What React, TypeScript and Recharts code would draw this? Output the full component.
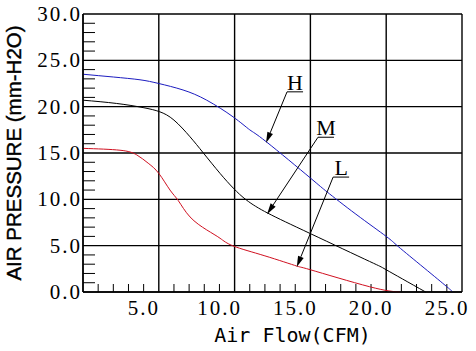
import React from 'react'
import { LineChart, Line, XAxis, YAxis, CartesianGrid, ReferenceLine, Label } from 'recharts'

// fan curves
const flowH = [0, 2, 3.76, 5, 6.6, 8.16, 9.9, 11, 12.1, 15, 16.1, 18, 20, 20.8, 22.5, 24, 24.4]
const presH = [23.5, 23.2, 22.9, 22.5, 21.8, 20.7, 18.9, 17.5, 16.2, 12.3, 10.8, 8.4, 6.0, 4.9, 2.6, 0.57, 0]

const flowM = [0, 2.2, 3.96, 5.06, 6, 7.06, 7.94, 9.04, 9.92, 10.8, 12.2, 15, 18.9, 20, 22.6]
const presM = [20.7, 20.35, 19.9, 19.45, 18.55, 16.75, 15.0, 12.8, 11.2, 9.9, 8.5, 6.3, 3.3, 2.4, 0]

const flowL = [0, 2.44, 3.54, 4.3, 5, 5.74, 6.29, 7.06, 8.16, 9.04, 9.92, 12, 14.1, 15, 18.9, 20.9]
const presL = [15.5, 15.3, 14.8, 13.9, 12.8, 11.0, 9.85, 8.1, 6.7, 5.8, 4.96, 3.9, 2.8, 2.4, 0.57, 0]

const xTicks = [0, 5, 10, 15, 20, 25]
const yTicks = [0, 5, 10, 15, 20, 25, 30]
const xMinor = [1, 2, 3, 4, 6, 7, 8, 9, 11, 12, 13, 14, 16, 17, 18, 19, 21, 22, 23, 24]
const yMinor = [1, 2, 3, 4, 6, 7, 8, 9, 11, 12, 13, 14, 16, 17, 18, 19, 21, 22, 23, 24, 26, 27, 28, 29]

// curve labels: underline start and arrow tip
const notes = [
  { name: 'H', x: 13.46, y: 21.6, tipX: 12.07, tipY: 16.07 },
  { name: 'M', x: 15.5, y: 16.7, tipX: 12.14, tipY: 8.4 },
  { name: 'L', x: 16.5, y: 12.4, tipX: 14.1, tipY: 2.7 },
]

const toPts = (xs: number[], ys: number[]) => xs.map((x, i) => ({ x, y: ys[i] }))
const dataH = toPts(flowH, presH)
const dataM = toPts(flowM, presM)
const dataL = toPts(flowL, presL)

const serif = "'Liberation Serif', 'DejaVu Serif', serif"

function XTick(props: any) {
  const { x, y, payload } = props
  if (payload.value === 0) return null
  return (
    <text x={x - 15} y={y + 23} textAnchor="middle" fontFamily={serif} fontSize={21} letterSpacing={2} fill="#000">
      {payload.value.toFixed(1)}
    </text>
  )
}

function YTick(props: any) {
  const { x, y, payload } = props
  return (
    <text x={x} y={y + 7} textAnchor="end" fontFamily={serif} fontSize={21} letterSpacing={2} fill="#000">
      {payload.value.toFixed(1)}
    </text>
  )
}

function Note(name: string) {
  return (props: any) => {
    const { x1, y1, x2, y2 } = props
    const ang = Math.atan2(y2 - y1, x2 - x1)
    const len = 11
    const w = 3
    const bx = x2 - len * Math.cos(ang)
    const by = y2 - len * Math.sin(ang)
    const px = -Math.sin(ang) * w
    const py = Math.cos(ang) * w
    return (
      <g>
        <line x1={x1} y1={y1} x2={x1 + 16} y2={y1} stroke="#000" strokeWidth={1} />
        <line x1={x1} y1={y1} x2={bx} y2={by} stroke="#000" strokeWidth={1} />
        <polygon points={`${x2},${y2} ${bx + px},${by + py} ${bx - px},${by - py}`} fill="#000" />
        <text x={x1 + 8} y={y1 - 2} textAnchor="middle" fontFamily={serif} fontSize={22} fill="#000">
          {name}
        </text>
      </g>
    )
  }
}

const xMinorShape = (props: any) => {
  const { x1, y1, y2 } = props
  const b = Math.max(y1, y2)
  return <line x1={x1} x2={x1} y1={b} y2={b - 8} stroke="#000" strokeWidth={1} />
}

const yMinorShape = (props: any) => {
  const { x1, x2, y1 } = props
  const l = Math.min(x1, x2)
  return <line x1={l} x2={l + 12} y1={y1} y2={y1} stroke="#000" strokeWidth={1} />
}

export default function App() {
  return (
    <div style={{ position: 'absolute', left: 0, top: 0, background: '#fff' }}>
      <LineChart width={476} height={351} margin={{ top: 14, right: 14, bottom: 0, left: 0 }}>
        <CartesianGrid stroke="#000" strokeWidth={1.4} />
        <XAxis
          type="number"
          dataKey="x"
          domain={[0, 25]}
          ticks={xTicks}
          height={59}
          tickSize={0}
          tickMargin={0}
          tick={<XTick />}
          axisLine={{ stroke: '#000', strokeWidth: 1.4 }}
          tickLine={false}
        >
          <Label
            value="Air Flow(CFM)"
            position="insideBottom"
            offset={9}
            dx={20}
            style={{ fontFamily: "'DejaVu Sans Mono', monospace", fontSize: 20, fill: '#000' }}
          />
        </XAxis>
        <YAxis
          type="number"
          domain={[0, 30]}
          ticks={yTicks}
          width={83}
          tickSize={0}
          tickMargin={1}
          tick={<YTick />}
          axisLine={{ stroke: '#000', strokeWidth: 1.4 }}
          tickLine={false}
        >
          <Label
            value="AIR PRESSURE (mm-H2O)"
            angle={-90}
            position="insideLeft"
            offset={14}
            style={{
              textAnchor: 'middle',
              fontFamily: "'Liberation Sans', Arial, sans-serif",
              fontSize: 20.5,
              fill: '#000',
              stroke: '#000',
              strokeWidth: 0.4,
            }}
          />
        </YAxis>
        {xMinor.map((v) => (
          <ReferenceLine key={'xm' + v} x={v} shape={xMinorShape} />
        ))}
        {yMinor.map((v) => (
          <ReferenceLine key={'ym' + v} y={v} shape={yMinorShape} />
        ))}
        <Line data={dataH} dataKey="y" type="natural" stroke="#1c1cc0" strokeWidth={1} dot={false} isAnimationActive={false} />
        <Line data={dataM} dataKey="y" type="natural" stroke="#000" strokeWidth={1} dot={false} isAnimationActive={false} />
        <Line data={dataL} dataKey="y" type="natural" stroke="#d01020" strokeWidth={1} dot={false} isAnimationActive={false} />
        {notes.map((n) => (
          <ReferenceLine
            key={n.name}
            segment={[
              { x: n.x, y: n.y },
              { x: n.tipX, y: n.tipY },
            ]}
            shape={Note(n.name)}
          />
        ))}
      </LineChart>
    </div>
  )
}
